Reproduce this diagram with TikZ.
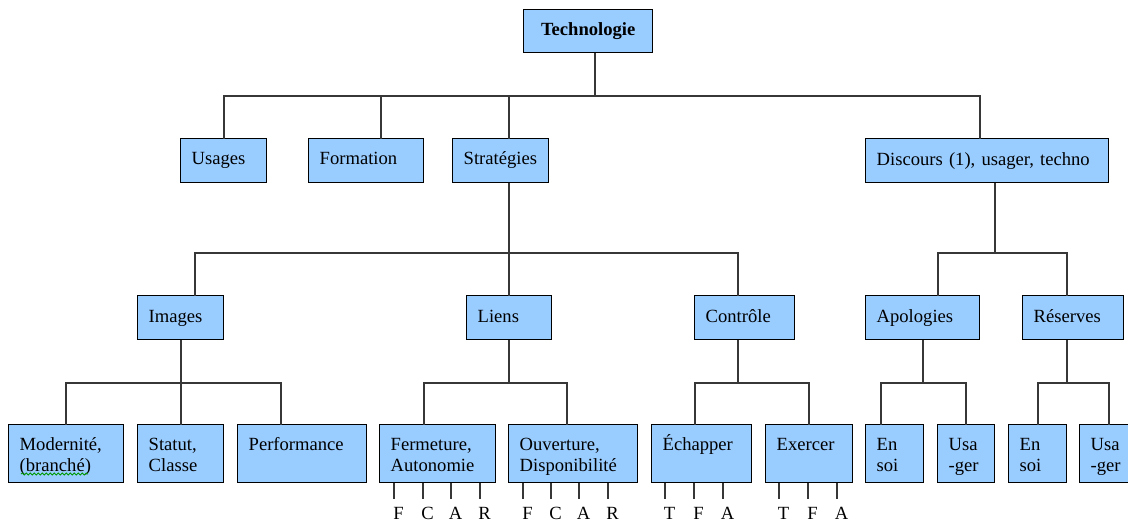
\documentclass[tikz,border=0pt]{standalone}
\usepackage{fontspec}
\setmainfont{Liberation Serif}
\usetikzlibrary{calc,decorations.pathmorphing}
\definecolor{boxblue}{RGB}{153,204,255}
\definecolor{wirecol}{RGB}{55,55,55}
\newcommand\boxfont{\fontsize{18.6}{21}\selectfont}
\tikzset{
  box/.style={draw=black, line width=1.4pt, fill=boxblue, anchor=north west,
    inner xsep=11pt, inner ysep=0pt, align=left, font=\boxfont},
  oneline/.style={box, minimum height=44pt, text height=13.5pt, text depth=4pt},
  twoline/.style={box, minimum height=58pt, text height=19pt, text depth=25pt},
  wire/.style={draw=wirecol, line width=1.6pt, line cap=rect},
  ltr/.style={anchor=north, inner xsep=0pt, inner ysep=8.5pt, text height=12.5pt,
    text depth=0pt, font=\boxfont}
}
\begin{document}
\begin{tikzpicture}[x=1pt,y=-1pt]
\fill[white] (0,0) rectangle (1128,522);
\useasboundingbox (0,0) rectangle (1128,522);

% level 1
\node[box, align=center, text width=105pt, inner xsep=12pt, minimum height=43pt,
  text height=13pt, text depth=4pt] (tech) at (523,9) {\textbf{Technologie}};

% level 2
\node[oneline, text width=64pt, text height=12pt] (usages) at (180,138) {Usages};
\node[oneline, text width=93pt, text height=12pt] (formation) at (308,138) {Formation};
\node[oneline, text width=74pt, text height=12pt] (strat) at (452,138) {Stratégies};
\node[oneline, text width=221pt] (disc) at (865,138) {Discours (1), usager, techno};

% level 3
\node[oneline, text width=64pt, text height=14pt] (images) at (137,295) {Images};
\node[oneline, text width=63pt] (liens) at (466,295) {Liens};
\node[oneline, text width=78pt] (controle) at (694,295) {Contrôle};
\node[oneline, text width=92pt] (apol) at (865,295) {Apologies};
\node[oneline, text width=79pt] (reserves) at (1022,295) {Réserves};

% level 4
\node[twoline, text width=93pt] (modern) at (8,424) {Modernité,\\(branché)};
\node[twoline, text width=64pt] (statut) at (137,424) {Statut,\\Classe};
\node[twoline, text width=107pt] (perf) at (237,424) {Performance};
\node[twoline, text width=94pt] (ferm) at (379,424) {Fermeture,\\Autonomie};
\node[twoline, text width=107pt] (ouv) at (508,424) {Ouverture,\\Disponibilité};
\node[twoline, text width=78pt] (echap) at (651,424) {Échapper};
\node[twoline, text width=65pt] (exerc) at (765,424) {Exercer};
\node[twoline, text width=36pt] (ensoiA) at (865,424) {En\\soi};
\node[twoline, text width=35pt] (usagerA) at (937,424) {Usa\\{-}ger};
\node[twoline, text width=36pt] (ensoiB) at (1008,424) {En\\soi};
\node[twoline, text width=36pt] (usagerB) at (1079,424) {Usa\\{-}ger};

% spell-check squiggle
\draw[green!60!black, line width=0.8pt, decorate,
  decoration={snake, amplitude=1.1pt, segment length=4pt}]
  ($(modern.north west)+(13,50)$) -- ($(modern.north west)+(80,50)$);

% bus levels
\coordinate (busA) at (0,96);
\coordinate (busB) at (0,253);
\coordinate (busC) at (0,383);

% drop points
\path ([xshift=6.5pt]tech.south) coordinate (techS);
\path (usages.north) coordinate (usagesN);
\path ([xshift=14.5pt]formation.north) coordinate (formationN);
\path ([xshift=8pt]strat.north) coordinate (stratN);
\path ([xshift=8pt]strat.south) coordinate (stratS);
\path ([xshift=-7.5pt]disc.north) coordinate (discN);
\path ([xshift=7.5pt]disc.south) coordinate (discS);
\path ([xshift=14pt]images.north) coordinate (imagesN);
\path (images.south) coordinate (imagesS);
\path (liens.north) coordinate (liensN);
\path (liens.south) coordinate (liensS);
\path ([xshift=-7pt]controle.north) coordinate (controleN);
\path ([xshift=-7pt]controle.south) coordinate (controleS);
\path ([xshift=15pt]apol.north) coordinate (apolN);
\path (apol.south) coordinate (apolS);
\path ([xshift=-6.5pt]reserves.north) coordinate (reservesN);
\path ([xshift=-6.5pt]reserves.south) coordinate (reservesS);
\path (modern.north) coordinate (modernN);
\path (statut.north) coordinate (statutN);
\path ([xshift=-21.5pt]perf.north) coordinate (perfN);
\path ([xshift=-14pt]ferm.north) coordinate (fermN);
\path ([xshift=-6.5pt]ouv.north) coordinate (ouvN);
\path ([xshift=-7pt]echap.north) coordinate (echapN);
\path (exerc.north) coordinate (exercN);
\path ([xshift=-14pt]ensoiA.north) coordinate (ensoiAN);
\path (usagerA.north) coordinate (usagerAN);
\path (ensoiB.north) coordinate (ensoiBN);
\path (usagerB.north) coordinate (usagerBN);

% level 1 -> 2
\draw[wire] (techS) -- (techS |- busA);
\draw[wire] (usagesN |- busA) -- (discN |- busA);
\foreach \n in {usagesN,formationN,stratN,discN}
  \draw[wire] (\n |- busA) -- (\n);

% level 2 -> 3
\draw[wire] (stratS) -- (stratS |- busB);
\draw[wire] (imagesN |- busB) -- (controleN |- busB);
\foreach \n in {imagesN,liensN,controleN}
  \draw[wire] (\n |- busB) -- (\n);
\draw[wire] (discS) -- (discS |- busB);
\draw[wire] (apolN |- busB) -- (reservesN |- busB);
\foreach \n in {apolN,reservesN}
  \draw[wire] (\n |- busB) -- (\n);

% level 3 -> 4
\draw[wire] (imagesS) -- (imagesS |- busC);
\draw[wire] (modernN |- busC) -- (perfN |- busC);
\foreach \n in {modernN,statutN,perfN}
  \draw[wire] (\n |- busC) -- (\n);
\draw[wire] (liensS) -- (liensS |- busC);
\draw[wire] (fermN |- busC) -- (ouvN |- busC);
\foreach \n in {fermN,ouvN}
  \draw[wire] (\n |- busC) -- (\n);
\draw[wire] (controleS) -- (controleS |- busC);
\draw[wire] (echapN |- busC) -- (exercN |- busC);
\foreach \n in {echapN,exercN}
  \draw[wire] (\n |- busC) -- (\n);
\draw[wire] (apolS) -- (apolS |- busC);
\draw[wire] (ensoiAN |- busC) -- (usagerAN |- busC);
\foreach \n in {ensoiAN,usagerAN}
  \draw[wire] (\n |- busC) -- (\n);
\draw[wire] (reservesS) -- (reservesS |- busC);
\draw[wire] (ensoiBN |- busC) -- (usagerBN |- busC);
\foreach \n in {ensoiBN,usagerBN}
  \draw[wire] (\n |- busC) -- (\n);

% letter stubs
\foreach \x/\l/\i in {394/F/1,423/C/2,451/A/3,480/R/4} {
  \node[ltr] (fe\i) at (\x+4.5,498) {\l};
  \path (fe\i.north) ++(-4.5,0) coordinate (fet\i);
  \draw[wire] (ferm.south -| fet\i) -- (fet\i);
}
\foreach \x/\l/\i in {523/F/1,551/C/2,579/A/3,608/R/4} {
  \node[ltr] (ou\i) at (\x+4.5,498) {\l};
  \path (ou\i.north) ++(-4.5,0) coordinate (out\i);
  \draw[wire] (ouv.south -| out\i) -- (out\i);
}
\foreach \x/\l/\i in {665/T/1,694/F/2,723/A/3} {
  \node[ltr] (ec\i) at (\x+4.5,498) {\l};
  \path (ec\i.north) ++(-4.5,0) coordinate (ect\i);
  \draw[wire] (echap.south -| ect\i) -- (ect\i);
}
\foreach \x/\l/\i in {779/T/1,808/F/2,837/A/3} {
  \node[ltr] (ex\i) at (\x+4.5,498) {\l};
  \path (ex\i.north) ++(-4.5,0) coordinate (ext\i);
  \draw[wire] (exerc.south -| ext\i) -- (ext\i);
}
\end{tikzpicture}
\end{document}
